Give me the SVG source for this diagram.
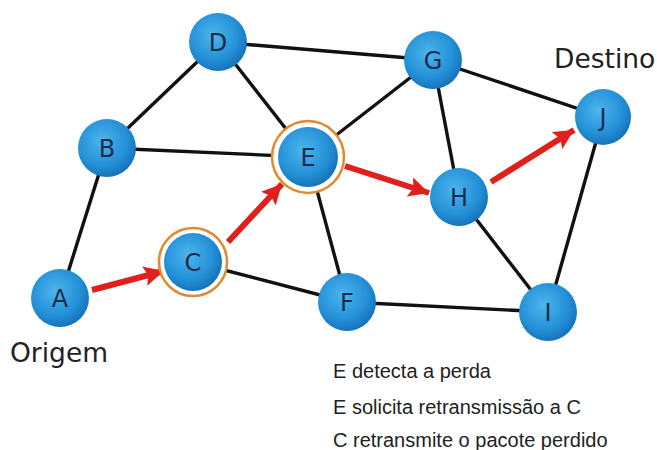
<svg xmlns="http://www.w3.org/2000/svg" width="657" height="450" viewBox="0 0 657 450">
<style>
.edge{stroke:#111;stroke-width:3.4;fill:none}
.arrow{stroke:#e0201c;stroke-width:6;fill:none;marker-end:url(#ah)}
.node{fill:url(#ng)}
.ring{fill:#fff;stroke:#e0892e;stroke-width:2.5}
.lbl{font-family:"DejaVu Sans",Verdana,sans-serif;font-size:24px;fill:#1b2b4a;text-anchor:middle}
.big{font-family:"DejaVu Sans",Verdana,sans-serif;font-size:26.5px;fill:#222}
.note{font-family:"Liberation Sans",Arial,sans-serif;font-size:20px;fill:#222}
</style>
<defs>
<radialGradient id="ng" cx="42%" cy="38%" r="62%">
<stop offset="0" stop-color="#4cb6ee"/>
<stop offset="0.7" stop-color="#238fd6"/>
<stop offset="1" stop-color="#1774bb"/>
</radialGradient>
<marker id="ah" markerUnits="userSpaceOnUse" markerWidth="20" markerHeight="20" refX="16" refY="8" orient="auto" viewBox="0 0 16 16">
<path d="M0,0 L16,8 L0,16 L3,8 Z" fill="#e0201c"/>
</marker>
</defs>
<g id="connectors">
<line class="edge" x1="60" y1="298" x2="107" y2="148"/>
<line class="edge" x1="107" y1="148" x2="218" y2="42"/>
<line class="edge" x1="107" y1="148" x2="308" y2="157"/>
<line class="edge" x1="218" y1="42" x2="308" y2="157"/>
<line class="edge" x1="218" y1="42" x2="433" y2="60"/>
<line class="edge" x1="433" y1="60" x2="308" y2="157"/>
<line class="edge" x1="433" y1="60" x2="459" y2="197"/>
<line class="edge" x1="433" y1="60" x2="603" y2="117"/>
<line class="edge" x1="603" y1="117" x2="548" y2="312"/>
<line class="edge" x1="459" y1="197" x2="548" y2="312"/>
<line class="edge" x1="193" y1="262" x2="347" y2="302"/>
<line class="edge" x1="308" y1="157" x2="347" y2="302"/>
<line class="edge" x1="347" y1="302" x2="548" y2="312"/>
<line class="arrow" x1="92" y1="290" x2="164" y2="271"/>
<line class="arrow" x1="228" y1="242" x2="282" y2="184"/>
<line class="arrow" x1="345" y1="166" x2="429" y2="193"/>
<line class="arrow" x1="491" y1="182" x2="574" y2="130"/>
</g>
<g id="A"><circle class="node" cx="60" cy="298" r="29"/><text class="lbl" x="60" y="307">A</text></g>
<g id="B"><circle class="node" cx="107" cy="148" r="29"/><text class="lbl" x="107" y="157">B</text></g>
<g id="C"><circle class="ring" cx="193" cy="262" r="34"/><circle class="node" cx="193" cy="262" r="29"/><text class="lbl" x="193" y="271">C</text></g>
<g id="D"><circle class="node" cx="218" cy="42" r="29"/><text class="lbl" x="218" y="51">D</text></g>
<g id="E"><circle class="ring" cx="308" cy="157" r="36"/><circle class="node" cx="308" cy="157" r="30"/><text class="lbl" x="308" y="166">E</text></g>
<g id="F"><circle class="node" cx="347" cy="302" r="29"/><text class="lbl" x="347" y="311">F</text></g>
<g id="G"><circle class="node" cx="433" cy="60" r="29"/><text class="lbl" x="433" y="69">G</text></g>
<g id="H"><circle class="node" cx="459" cy="197" r="29"/><text class="lbl" x="459" y="206">H</text></g>
<g id="I"><circle class="node" cx="548" cy="312" r="29"/><text class="lbl" x="548" y="321">I</text></g>
<g id="J"><circle class="node" cx="603" cy="117" r="28"/><text class="lbl" x="603" y="126">J</text></g>
<text class="big" x="10" y="362">Origem</text>
<text class="big" x="554" y="68">Destino</text>
<text class="note" x="333" y="378">E detecta a perda</text>
<text class="note" x="333" y="414">E solicita retransmissão a C</text>
<text class="note" x="333" y="447">C retransmite o pacote perdido</text>
</svg>
